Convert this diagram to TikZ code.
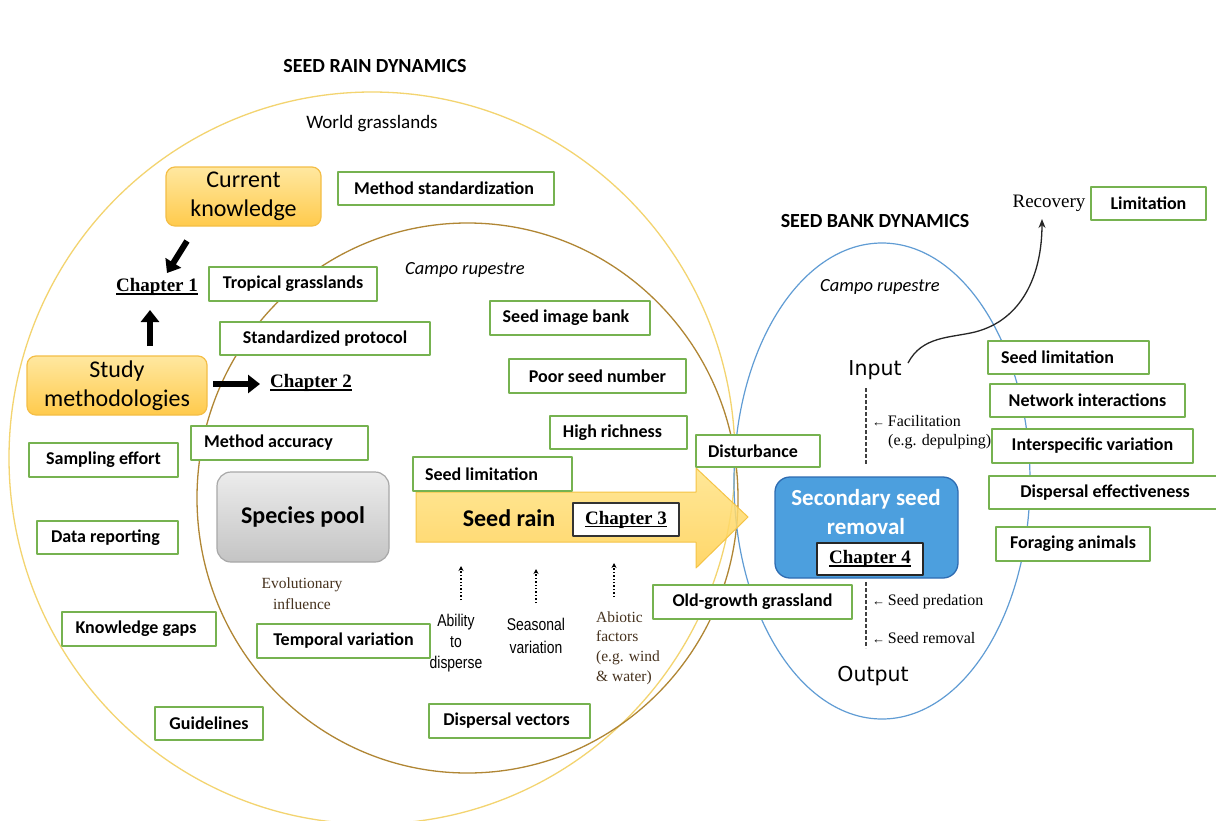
\documentclass[tikz,border=0pt]{standalone}
\usepackage{fontspec}
\setmainfont{Carlito}
\newfontfamily\serifface{Liberation Serif}
\newfontfamily\narrowface[FakeStretch=0.82]{Liberation Sans}
\newfontfamily\ioface{DejaVu Sans}
\usetikzlibrary{arrows.meta}
\definecolor{outergold}{RGB}{243,212,112}
\definecolor{innerbrown}{RGB}{176,134,52}
\definecolor{ellblue}{RGB}{96,156,212}
\definecolor{boxgreen}{RGB}{118,178,80}
\definecolor{orTop}{RGB}{255,232,160}
\definecolor{orBot}{RGB}{255,202,76}
\definecolor{orEdge}{RGB}{244,190,70}
\definecolor{grTop}{RGB}{236,236,236}
\definecolor{grBot}{RGB}{196,196,196}
\definecolor{grEdge}{RGB}{168,168,168}
\definecolor{blFill}{RGB}{76,159,222}
\definecolor{blEdge}{RGB}{46,108,178}
\definecolor{arTop}{RGB}{255,228,135}
\definecolor{arBot}{RGB}{255,208,80}
\definecolor{arEdge}{RGB}{245,196,70}
\definecolor{evobrown}{RGB}{70,50,30}
\newcommand\fs[2]{\fontsize{#1}{#2}\selectfont}
\newcommand\chul[1]{\setbox0=\hbox{#1}\rlap{\rule[-3.2pt]{\wd0}{1.5pt}}\box0}
\newcommand\gbox[7][0]{\node[gbox, minimum width={(#5-#3)*1pt}, minimum height={(#6-#4)*1pt}] (#2) at ({(#3+#5)/2},{(#4+#6)/2}) {\hspace*{#1pt}#7\hspace*{-#1pt}};}
\begin{document}
\begin{tikzpicture}[x=1pt,y=-1pt,line join=round,
  gbox/.style={draw=boxgreen, line width=1.4pt, fill=white, font=\bfseries\fs{18}{22}, inner sep=0pt, text=black},
  obox/.style={draw=orEdge, line width=1.2pt, rounded corners=9pt, top color=orTop, bottom color=orBot, font=\fs{24}{29}, align=center, inner sep=0pt},
  chap/.style={font=\serifface\bfseries\fs{19}{22}, inner sep=1pt},
  title/.style={font=\bfseries\fs{20}{24}},
  small/.style={font=\serifface\fs{16}{20}, inner sep=0pt},
  blockarrow/.style={line width=6pt, -{Triangle[width=18pt,length=12pt]}},
  dotarrow/.style={dotted, line width=1.4pt, -{Stealth[length=5pt,width=5pt]}},
  dline/.style={dash pattern=on 4pt off 2pt, line width=1.1pt, draw=black!75},
  io/.style={font=\ioface\fs{20.5}{24}}
]
\useasboundingbox (0,0) rectangle (1216,820);
\fill[white] (0,0) rectangle (1216,820);
\clip (0,0) rectangle (1216,820);

% enclosing ellipses
\draw[outergold, line width=1.3pt] (372,458) ellipse [x radius=363pt, y radius=366pt];
\draw[innerbrown, line width=1.3pt] (467.5,498) ellipse [x radius=270.5pt, y radius=275pt];
\draw[ellblue, line width=1.2pt] (882,481) ellipse [x radius=148pt, y radius=238pt];

% titles
\node[title] (srd) at (375,66) {SEED RAIN DYNAMICS};
\node[title] (sbd) at (875,221) {SEED BANK DYNAMICS};
\node[font=\fs{19}{22}] (wg) at (372,124) {World grasslands};
\node[font=\itshape\fs{18.5}{22}] (cr1) at (465,270) {Campo rupestre};
\node[font=\itshape\fs{18.5}{22}] (cr2) at (880,287) {Campo rupestre};

% seed rain arrow
\path[draw=arEdge, line width=1pt, top color=arTop, bottom color=arBot, fill opacity=0.85]
  (416,492) -- (696,492) -- (696,468) -- (748,517) -- (696,568) -- (696,542) -- (416,542) -- cycle;
\node[font=\bfseries\fs{24}{28}] (srt) at (509,518) {Seed rain};
\node[draw=black!80, line width=1.2pt, fill=white, minimum width=106pt, minimum height=33pt, inner sep=0pt, chap] (ch3) at (626,519.5) {\chul{Chapter 3}};

% orange boxes
\node[obox, minimum width=155pt, minimum height=59pt] (ck) at (243.5,196.5) {Current\\knowledge};
\node[obox, minimum width=180pt, minimum height=59pt] (sm) at (117,385.5) {Study\\methodologies};

% chapter labels
\node[chap] (ch1) at (157,287) {\chul{Chapter 1}};
\node[chap] (ch2) at (311,383) {\chul{Chapter 2}};

% block arrows
\coordinate (a1s) at (187,241); \coordinate (a1e) at (167,273);
\coordinate (a2s) at (150,346); \coordinate (a2e) at (150,310);
\coordinate (a3s) at (213,384); \coordinate (a3e) at (260,384);
\draw[blockarrow] (a1s) -- (a1e);
\draw[blockarrow] (a2s) -- (a2e);
\draw[blockarrow] (a3s) -- (a3e);

% species pool
\node[draw=grEdge, line width=1.2pt, rounded corners=14pt, top color=grTop, bottom color=grBot, minimum width=172pt, minimum height=90pt, font=\bfseries\fs{24}{28}, inner sep=0pt] (spool) at (303,517) {Species pool};

% green boxes
\gbox[-2]{ms}{338}{172}{554}{205}{Method standardization}
\gbox{tg}{209}{267}{377}{301}{Tropical grasslands}
\gbox{sp}{220}{322}{430}{355}{Standardized protocol}
\gbox[-4]{sib}{490}{301}{650}{335}{Seed image bank}
\gbox{psn}{509}{359}{686}{393}{Poor seed number}
\gbox[-6]{hr}{550}{416}{687}{449}{High richness}
\gbox[-11]{ma}{191}{426}{368}{460}{Method accuracy}
\gbox{se}{29}{443}{178}{477}{Sampling effort}
\gbox[-11]{slA}{413}{457}{572}{491}{Seed limitation}
\gbox[-5]{dist}{696}{435}{820}{467}{Disturbance}
\gbox[-2]{dr}{37}{521}{178}{554}{Data reporting}
\gbox[-3]{kg}{62}{612}{216}{646}{Knowledge gaps}
\gbox{tv}{257}{624}{430}{658}{Temporal variation}
\gbox{og}{653}{585}{852}{619}{Old-growth grassland}
\gbox{gl}{155}{707}{263}{740}{Guidelines}
\gbox[-3]{dv}{429}{704}{590}{738}{Dispersal vectors}
\gbox{lim}{1091}{187}{1206}{220}{Limitation}
\gbox[-11]{slB}{988}{341}{1149}{374}{Seed limitation}
\gbox{ni}{990}{384}{1185}{417}{Network interactions}
\gbox{iv}{992}{429}{1193}{463}{Interspecific variation}
\gbox[-2]{de}{989}{476}{1225}{509}{Dispersal effectiveness}
\gbox{fa}{996}{527}{1150}{561}{Foraging animals}

% seed rain factors
\node[font=\serifface\fs{15.5}{21}, text=evobrown, align=center, inner sep=0pt] (evo) at (302,594) {Evolutionary\\influence};
\node[font=\narrowface\fs{17}{21}, align=center, inner sep=0pt] (abil) at (456,643) {Ability\\to\\disperse};
\node[font=\narrowface\fs{17}{23}, align=center, inner sep=0pt] (seas) at (536,636) {Seasonal\\variation};
\node[font=\serifface\fs{15.5}{19.8}, text=evobrown, align=left, inner sep=0pt, anchor=west] (abio) at (596,648) {Abiotic\\factors\\(e.g. wind\\\& water)};
\coordinate (d1s) at (461,600); \coordinate (d1e) at (461,566);
\coordinate (d2s) at (536,603); \coordinate (d2e) at (536,569);
\coordinate (d3s) at (614,597); \coordinate (d3e) at (614,563);
\draw[dotarrow] (d1s) -- (d1e);
\draw[dotarrow] (d2s) -- (d2e);
\draw[dotarrow] (d3s) -- (d3e);

% seed bank side
\node[draw=blEdge, line width=1.3pt, fill=blFill, rounded corners=15pt, minimum width=183pt, minimum height=101pt, inner sep=0pt] (ssr) at (866.5,527.5) {};
\node[font=\bfseries\fs{23}{29}, text=white, align=center, inner sep=0pt] (ssrt) at (866,512) {Secondary seed\\removal};
\node[draw=black!85, line width=1.2pt, fill=white, minimum width=106pt, minimum height=32pt, inner sep=0pt, chap] (ch4) at (870,559) {\chul{Chapter 4}};

\node[io] (inp) at (875,370) {Input};
\node[io] (outp) at (873,676) {Output};
\node[font=\serifface\fs{19}{22}, inner sep=1pt] (rec) at (1049,203) {Recovery};

\coordinate (q1) at (866,388); \coordinate (q2) at (866,465);
\coordinate (q3) at (866,582); \coordinate (q4) at (866,648);
\draw[dline] (q1) -- (q2);
\draw[dline] (q3) -- (q4);

\node[small, anchor=west] (fac1) at (872,421) {{\fs{13}{13}←}\,Facilitation};
\node[small, anchor=west] (fac2) at (888,442) {(e.g. depulping)};
\node[small, anchor=west] (pred) at (872,602) {{\fs{13}{13}←}\,Seed predation};
\node[small, anchor=west] (remv) at (872,638) {{\fs{13}{13}←}\,Seed removal};

\coordinate (rs) at (908,363);
\coordinate (re) at (1042,219);
\draw[line width=1.3pt, black!85, -{Stealth[length=9pt,width=7pt]}] (rs) .. controls (922,336) and (950,338) .. (975,332) .. controls (1022,320) and (1042,275) .. (re);
\end{tikzpicture}
\end{document}
